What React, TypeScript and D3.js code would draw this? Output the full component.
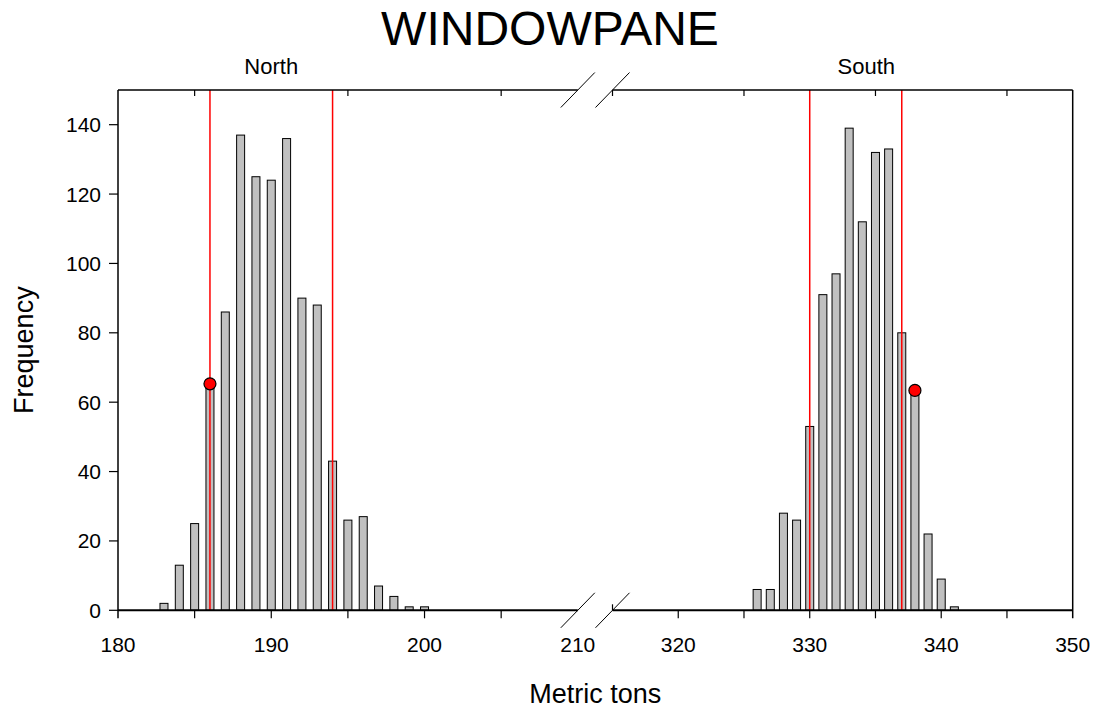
import React from "react";
import * as d3 from "d3";

const northBins = [183, 184, 185, 186, 187, 188, 189, 190, 191, 192, 193, 194, 195, 196, 197, 198, 199, 200];
const northFreq = [2, 13, 25, 64, 86, 137, 125, 124, 136, 90, 88, 43, 26, 27, 7, 4, 1, 1];
const southBins = [326, 327, 328, 329, 330, 331, 332, 333, 334, 335, 336, 337, 338, 339, 340, 341];
const southFreq = [6, 6, 28, 26, 53, 91, 97, 139, 112, 132, 133, 80, 62, 22, 9, 1];
const northLines = [186, 194];
const southLines = [330, 337];
const northPoint = { x: 186, y: 65.3 };
const southPoint = { x: 338, y: 63.4 };
const yTicks = [0, 20, 40, 60, 80, 100, 120, 140];
const northMajor = [180, 190, 200, 210];
const northMinor = [185, 195, 205];
const southMajor = [320, 330, 340, 350];
const southMinor = [315, 325, 335, 345];
const topTicksNorth = [185, 195, 205];
const topTicksSouth = [315, 325, 335, 345];

const FONT = "'Liberation Sans', Arial, Helvetica, sans-serif";

export default function App() {
  const W = 1097, H = 713;
  const top = 90, bottom = 610.3, left = 118, right = 1072.7;
  const brk1 = 577.8, brk2 = 612.5;
  const xN = d3.scaleLinear().domain([180, 210]).range([left, brk1]);
  const xS = d3.scaleLinear().domain([315, 350]).range([brk2, right]);
  const y = d3.scaleLinear().domain([0, 150]).range([bottom, top]);
  const barW = 8;

  const bars = (bins: number[], freq: number[], x: d3.ScaleLinear<number, number>, key: string) =>
    bins.map((b, i) => (
      <rect
        key={key + b}
        x={x(b) - barW / 2}
        y={y(freq[i])}
        width={barW}
        height={y(0) - y(freq[i])}
        fill="#c0c0c0"
        stroke="#000"
        strokeWidth={1}
      />
    ));

  const slash = (cx: number, cy: number, k: string) => (
    <line key={k} x1={cx - 17} y1={cy + 17.5} x2={cx + 17} y2={cy - 17.5} stroke="#000" strokeWidth={1} />
  );

  return (
    <svg width={W} height={H} style={{ position: "absolute", left: 0, top: 0, background: "#fff" }} fontFamily={FONT}>
      <rect x={0} y={0} width={W} height={H} fill="#fff" />
      {/* bars */}
      {bars(northBins, northFreq, xN, "n")}
      {bars(southBins, southFreq, xS, "s")}
      {/* red reference lines */}
      {northLines.map((v) => (
        <line key={"nl" + v} x1={xN(v)} x2={xN(v)} y1={top} y2={bottom} stroke="#ff0000" strokeWidth={1.5} />
      ))}
      {southLines.map((v) => (
        <line key={"sl" + v} x1={xS(v)} x2={xS(v)} y1={top} y2={bottom} stroke="#ff0000" strokeWidth={1.5} />
      ))}
      <circle cx={xN(northPoint.x)} cy={y(northPoint.y)} r={6} fill="#ff0000" stroke="#000" strokeWidth={1.2} />
      <circle cx={xS(southPoint.x)} cy={y(southPoint.y)} r={6} fill="#ff0000" stroke="#000" strokeWidth={1.2} />

      {/* frame */}
      <line x1={left} x2={brk1} y1={top} y2={top} stroke="#000" strokeWidth={1.5} />
      <line x1={brk2} x2={right} y1={top} y2={top} stroke="#000" strokeWidth={1.5} />
      <line x1={left} x2={brk1} y1={bottom} y2={bottom} stroke="#000" strokeWidth={2} />
      <line x1={brk2} x2={right} y1={bottom} y2={bottom} stroke="#000" strokeWidth={2} />
      <line x1={left} x2={left} y1={top} y2={bottom + 8} stroke="#000" strokeWidth={1.5} />
      <line x1={right} x2={right} y1={top} y2={bottom + 8} stroke="#000" strokeWidth={1.5} />
      {slash(brk1, top, "s1")}
      {slash(brk2, top, "s2")}
      {slash(brk1, bottom, "s3")}
      {slash(brk2, bottom, "s4")}

      {/* y ticks */}
      {yTicks.map((t) => (
        <g key={"y" + t}>
          <line x1={left - 9} x2={left} y1={y(t)} y2={y(t)} stroke="#000" strokeWidth={1.2} />
          <text x={left - 17} y={y(t) + 7.5} textAnchor="end" fontSize={21} fill="#000">
            {t}
          </text>
        </g>
      ))}

      {/* bottom ticks */}
      {northMajor.concat(northMinor).filter((t) => t !== 210 && t !== 180).map((t) => (
        <line key={"bn" + t} x1={xN(t)} x2={xN(t)} y1={bottom} y2={bottom + 8} stroke="#000" strokeWidth={1.2} />
      ))}
      {southMajor.concat(southMinor).filter((t) => t !== 350).map((t) => (
        <line key={"bs" + t} x1={xS(t)} x2={xS(t)} y1={bottom} y2={bottom + (t === 315 ? -6 : 8)} stroke="#000" strokeWidth={1.2} />
      ))}
      {northMajor.map((t) => (
        <text key={"ln" + t} x={xN(t)} y={652} textAnchor="middle" fontSize={21} fill="#000">
          {t}
        </text>
      ))}
      {southMajor.map((t) => (
        <text key={"ls" + t} x={xS(t)} y={652} textAnchor="middle" fontSize={21} fill="#000">
          {t}
        </text>
      ))}

      {/* top ticks (inward) */}
      {topTicksNorth.map((t) => (
        <line key={"tn" + t} x1={xN(t)} x2={xN(t)} y1={top} y2={top + 6} stroke="#000" strokeWidth={1.2} />
      ))}
      {topTicksSouth.map((t) => (
        <line key={"ts" + t} x1={xS(t)} x2={xS(t)} y1={top} y2={top + 6} stroke="#000" strokeWidth={1.2} />
      ))}

      {/* labels */}
      <text x={550} y={45} textAnchor="middle" fontSize={48} fill="#000">
        WINDOWPANE
      </text>
      <text x={xN(190)} y={74} textAnchor="middle" fontSize={22} fill="#000">
        North
      </text>
      <text x={xS(334.3)} y={74} textAnchor="middle" fontSize={22} fill="#000">
        South
      </text>
      <text x={(left + right) / 2} y={703} textAnchor="middle" fontSize={27} fill="#000">
        Metric tons
      </text>
      <text transform={`translate(33, ${(top + bottom) / 2}) rotate(-90)`} textAnchor="middle" fontSize={27} fill="#000">
        Frequency
      </text>
    </svg>
  );
}
